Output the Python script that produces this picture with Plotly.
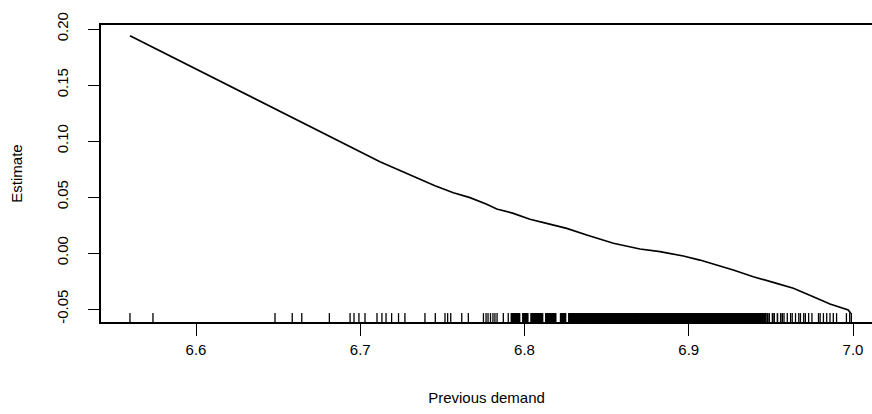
import plotly.graph_objects as go

# Fitted partial effect of previous demand
demand = [6.5598, 6.6592, 6.6653, 6.6978, 6.7120, 6.7242, 6.7455, 6.7567, 6.7668,
          6.7770, 6.7831, 6.7932, 6.8033, 6.8135, 6.8257, 6.8379, 6.8541, 6.8703,
          6.8825, 6.8967, 6.9068, 6.9271, 6.9393, 6.9535, 6.9637, 6.9758, 6.9860,
          6.9971, 6.9986]
estimate = [0.1940, 0.1203, 0.1158, 0.0920, 0.0815, 0.0737, 0.0601, 0.0538, 0.0494,
            0.0435, 0.0393, 0.0354, 0.0301, 0.0265, 0.0220, 0.0161, 0.0087, 0.0036,
            0.0012, -0.0027, -0.0063, -0.0152, -0.0212, -0.0271, -0.0315, -0.0390,
            -0.0455, -0.0509, -0.0538]

# Observed values of previous demand (rug): isolated observations
rug_sparse = [
    6.5598, 6.5738, 6.6481, 6.6586, 6.6644, 6.6812, 6.6938, 6.6962, 6.6992, 6.7029,
    6.7102, 6.7132, 6.7157, 6.7191, 6.7233, 6.7272, 6.7394, 6.7457, 6.7516, 6.7532,
    6.7551, 6.7618, 6.7658, 6.7750, 6.7766, 6.7778, 6.7793, 6.7808, 6.7820, 6.7833,
    6.7871, 6.7901,
    6.957, 6.958, 6.960, 6.962, 6.963, 6.965, 6.967, 6.968, 6.970, 6.971,
    6.973, 6.975, 6.979, 6.980, 6.982, 6.984, 6.986, 6.988, 6.990, 6.996,
    6.998, 6.999,
]

# Observed values of previous demand (rug): the crowded middle of the range
rug_dense = [
    6.792, 6.793, 6.794, 6.795, 6.796, 6.797, 6.799, 6.800, 6.801, 6.802,
    6.804, 6.805, 6.806, 6.807, 6.808, 6.809, 6.810, 6.811, 6.813, 6.814,
    6.815, 6.816, 6.817, 6.818, 6.819, 6.822, 6.823, 6.824, 6.825, 6.827,
    6.828, 6.829, 6.830, 6.831, 6.832, 6.833, 6.834, 6.835, 6.836, 6.837,
    6.838, 6.839, 6.840, 6.841, 6.842, 6.843, 6.844, 6.845, 6.846, 6.847,
    6.848, 6.849, 6.850, 6.851, 6.852, 6.853, 6.854, 6.855, 6.856, 6.857,
    6.858, 6.859, 6.860, 6.861, 6.862, 6.863, 6.864, 6.865, 6.866, 6.867,
    6.868, 6.869, 6.870, 6.871, 6.872, 6.873, 6.874, 6.875, 6.876, 6.877,
    6.878, 6.879, 6.880, 6.881, 6.882, 6.883, 6.884, 6.885, 6.886, 6.887,
    6.888, 6.889, 6.890, 6.891, 6.892, 6.893, 6.894, 6.895, 6.896, 6.897,
    6.898, 6.899, 6.900, 6.901, 6.902, 6.903, 6.904, 6.905, 6.906, 6.907,
    6.908, 6.909, 6.910, 6.911, 6.912, 6.913, 6.914, 6.915, 6.916, 6.917,
    6.918, 6.919, 6.920, 6.921, 6.922, 6.923, 6.924, 6.925, 6.926, 6.927,
    6.928, 6.929, 6.930, 6.931, 6.932, 6.933, 6.934, 6.935, 6.936, 6.937,
    6.938, 6.939, 6.940, 6.941, 6.942, 6.943, 6.944, 6.945, 6.946, 6.947,
    6.948, 6.949, 6.951, 6.952, 6.954, 6.956,
    6.7925, 6.7935, 6.7945, 6.7955, 6.7965, 6.7995, 6.8005, 6.8015, 6.8045, 6.8055,
    6.8065, 6.8075, 6.8085, 6.8095, 6.8105, 6.8135, 6.8145, 6.8155, 6.8165, 6.8175,
    6.8185, 6.8225, 6.8235, 6.8245, 6.8275, 6.8285, 6.8295, 6.8305, 6.8315, 6.8325,
    6.8335, 6.8345, 6.8355,
    6.8365, 6.8375, 6.8385, 6.8395, 6.8405, 6.8415, 6.8425, 6.8435, 6.8445, 6.8455,
    6.8465, 6.8475, 6.8485, 6.8495, 6.8505, 6.8515, 6.8525, 6.8535, 6.8545, 6.8555,
    6.8565, 6.8575, 6.8585, 6.8595, 6.8605, 6.8615, 6.8625, 6.8635, 6.8645, 6.8655,
    6.8665, 6.8675, 6.8685, 6.8695, 6.8705, 6.8715, 6.8725, 6.8735, 6.8745, 6.8755,
    6.8765, 6.8775, 6.8785, 6.8795, 6.8805, 6.8815, 6.8825, 6.8835, 6.8845, 6.8855,
    6.8865, 6.8875, 6.8885, 6.8895, 6.8905, 6.8915, 6.8925, 6.8935, 6.8945, 6.8955,
    6.8965, 6.8975, 6.8985, 6.8995, 6.9005, 6.9015, 6.9025, 6.9035, 6.9045, 6.9055,
    6.9065, 6.9075, 6.9085, 6.9095, 6.9105, 6.9115, 6.9125, 6.9135, 6.9145, 6.9155,
    6.9165, 6.9175, 6.9185, 6.9195, 6.9205, 6.9215, 6.9225, 6.9235, 6.9245, 6.9255,
    6.9265, 6.9275, 6.9285, 6.9295, 6.9305, 6.9315, 6.9325, 6.9335, 6.9345, 6.9355,
    6.9365, 6.9375, 6.9385, 6.9395, 6.9405, 6.9415, 6.9425, 6.9435, 6.9445, 6.9455,
    6.9465,
]

x_ticks = [6.6, 6.7, 6.8, 6.9, 7.0]
x_tick_text = ["6.6", "6.7", "6.8", "6.9", "7.0"]
y_ticks = [-0.05, 0.00, 0.05, 0.10, 0.15, 0.20]
y_tick_text = ["-0.05", "0.00", "0.05", "0.10", "0.15", "0.20"]

X_RANGE = [6.54216, 7.01157]
Y_RANGE = [-0.06161, 0.20357]

FONT = "Liberation Sans, Arial, sans-serif"

# rug segments rising 3% of the plot height from the bottom axis
rug_top = Y_RANGE[0] + 0.03 * (Y_RANGE[1] - Y_RANGE[0])


def rug_segments(values):
    xs, ys = [], []
    for v in sorted(values):
        xs += [v, v, None]
        ys += [Y_RANGE[0], rug_top, None]
    return xs, ys


fig = go.Figure()
for values, width in ((rug_sparse, 1.3), (rug_dense, 1.6)):
    rx, ry = rug_segments(values)
    fig.add_trace(go.Scatter(x=rx, y=ry, mode="lines",
                             line=dict(color="black", width=width, simplify=False),
                             hoverinfo="skip", showlegend=False))
fig.add_trace(go.Scatter(x=demand, y=estimate, mode="lines",
                         line=dict(color="black", width=1.7),
                         showlegend=False))

fig.update_layout(
    width=872, height=414,
    margin=dict(l=101, r=0, t=25, b=92),
    paper_bgcolor="white", plot_bgcolor="white",
    font=dict(family=FONT, size=15, color="black"),
    showlegend=False,
)
fig.update_xaxes(
    range=X_RANGE, tickvals=x_ticks, ticktext=x_tick_text,
    showgrid=False, zeroline=False,
    showline=True, linecolor="black", linewidth=1.5, mirror=True,
    ticks="outside", ticklen=12, tickwidth=1.2, tickcolor="black",
    ticklabelstandoff=1,
    title=dict(text="Previous demand", standoff=36, font=dict(size=15)),
)
fig.update_yaxes(
    range=Y_RANGE, tickvals=y_ticks, ticktext=y_tick_text, tickangle=-90,
    showgrid=False, zeroline=False,
    showline=True, linecolor="black", linewidth=1.5,
    ticks="outside", ticklen=11, tickwidth=1.2, tickcolor="black",
    ticklabelstandoff=14,
    title=dict(text="Estimate", standoff=28, font=dict(size=15)),
)

fig.write_html("out.html")
